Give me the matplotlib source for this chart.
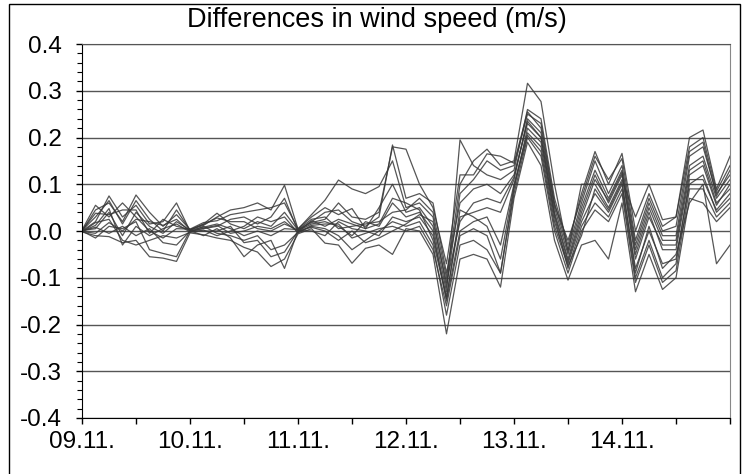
import numpy as np
import matplotlib.pyplot as plt
from matplotlib.patches import Rectangle

plt.rcParams['font.family'] = ['Liberation Sans', 'DejaVu Sans']
plt.rcParams['axes.unicode_minus'] = False

# hours since 09.11. 00 UTC, 3-hourly, up to 15.11. 00 UTC
hours = np.arange(0, 145, 3)

# one row per time step, one column per ensemble member (12 members)
day_0911 = [
    [0.000, -0.002, 0.001, 0.000, 0.002, -0.001, 0.000, 0.001, -0.002, 0.000, 0.001, -0.001],
    [0.045, -0.010, 0.005, 0.020, 0.055, 0.012, -0.015, 0.030, 0.018, 0.008, 0.038, -0.005],
    [0.060, -0.012, 0.040, 0.075, 0.030, 0.048, 0.010, 0.065, 0.025, -0.005, 0.035, 0.018],
    [0.020, -0.025, -0.010, 0.030, 0.060, -0.030, 0.005, 0.015, -0.020, 0.010, 0.045, 0.000],
    [0.077, -0.020, 0.040, 0.055, 0.030, 0.010, 0.020, 0.065, -0.030, -0.010, 0.045, 0.025],
    [0.040, -0.055, 0.010, 0.015, 0.000, -0.010, -0.040, 0.025, -0.020, 0.005, -0.005, 0.020],
    [0.010, -0.058, -0.005, 0.020, -0.015, 0.005, -0.048, 0.000, -0.010, -0.025, 0.025, 0.012],
    [0.035, -0.065, 0.020, 0.060, 0.005, 0.015, -0.055, 0.045, -0.015, -0.030, 0.010, 0.025],
]
day_1011 = [
    [0.003, -0.004, 0.002, 0.000, 0.004, -0.002, 0.001, 0.002, -0.003, 0.000, 0.003, -0.001],
    [0.012, -0.008, 0.015, 0.005, 0.018, 0.010, -0.010, 0.008, 0.002, 0.000, 0.014, 0.006],
    [0.030, -0.015, 0.038, 0.010, 0.022, -0.005, 0.005, 0.015, -0.010, 0.000, 0.028, 0.012],
    [0.045, -0.020, 0.015, 0.025, 0.035, -0.010, -0.015, 0.005, 0.000, 0.010, 0.020, -0.005],
    [0.050, -0.035, 0.005, 0.030, 0.040, -0.020, -0.055, -0.010, 0.010, -0.025, 0.020, 0.000],
    [0.060, -0.045, 0.020, 0.015, 0.045, -0.010, -0.030, 0.000, 0.030, -0.020, 0.005, 0.010],
    [0.045, -0.076, 0.010, 0.030, 0.050, -0.040, -0.020, -0.010, 0.020, -0.055, 0.000, 0.005],
    [0.098, -0.060, 0.040, 0.070, 0.060, -0.030, -0.080, 0.005, 0.030, -0.045, 0.015, 0.020],
]
day_1111 = [
    [0.004, -0.006, 0.002, 0.000, 0.005, -0.003, 0.001, 0.003, -0.004, 0.000, 0.002, -0.002],
    [0.035, 0.005, 0.020, 0.015, 0.030, 0.010, 0.000, 0.025, 0.012, 0.008, 0.018, 0.022],
    [0.066, -0.026, 0.040, 0.020, 0.050, 0.005, -0.010, 0.030, 0.015, 0.000, 0.025, 0.010],
    [0.109, -0.030, 0.045, 0.010, 0.035, -0.010, 0.020, 0.005, 0.015, -0.020, 0.060, 0.025],
    [0.090, -0.069, 0.020, -0.010, 0.048, -0.040, 0.005, 0.010, -0.015, 0.000, 0.030, 0.015],
    [0.080, -0.037, 0.010, 0.020, 0.005, -0.020, 0.000, 0.015, -0.005, -0.025, 0.025, 0.005],
    [0.095, -0.030, 0.030, 0.010, 0.050, 0.000, -0.010, 0.020, 0.005, -0.015, 0.040, 0.015],
    [0.150, -0.050, 0.184, 0.060, 0.100, 0.020, 0.030, 0.040, 0.010, 0.000, 0.180, 0.070],
]
day_1211 = [
    [0.050, 0.005, 0.070, 0.030, 0.040, 0.010, 0.020, 0.045, 0.000, 0.015, 0.175, 0.060],
    [0.060, 0.000, 0.080, 0.040, 0.050, 0.020, 0.030, 0.070, 0.010, 0.035, 0.100, 0.045],
    [0.030, -0.050, 0.060, 0.000, 0.010, -0.030, -0.010, 0.040, -0.040, 0.020, 0.050, -0.020],
    [-0.120, -0.220, -0.090, -0.150, -0.130, -0.180, -0.140, -0.100, -0.160, -0.110, -0.070, -0.145],
    [0.080, -0.060, 0.060, 0.000, 0.195, -0.030, 0.030, 0.100, -0.010, 0.020, 0.120, 0.045],
    [0.110, -0.050, 0.090, 0.020, 0.140, -0.020, 0.040, 0.150, 0.005, 0.060, 0.120, 0.030],
    [0.150, -0.060, 0.100, 0.030, 0.120, -0.040, 0.050, 0.175, -0.010, 0.070, 0.165, 0.010],
    [0.130, -0.120, 0.080, -0.030, 0.110, -0.090, 0.040, 0.140, -0.090, 0.060, 0.160, -0.060],
]
day_1311 = [
    [0.140, 0.070, 0.120, 0.100, 0.130, 0.080, 0.110, 0.150, 0.090, 0.115, 0.145, 0.095],
    [0.250, 0.190, 0.230, 0.210, 0.260, 0.200, 0.240, 0.316, 0.220, 0.235, 0.255, 0.205],
    [0.230, 0.140, 0.200, 0.180, 0.240, 0.160, 0.210, 0.277, 0.190, 0.200, 0.220, 0.170],
    [0.060, -0.020, 0.040, 0.020, 0.070, 0.000, 0.050, 0.100, 0.030, 0.035, 0.055, 0.010],
    [-0.040, -0.105, -0.060, -0.070, -0.030, -0.090, -0.050, -0.045, -0.080, -0.065, -0.020, -0.075],
    [0.060, -0.030, 0.040, 0.020, 0.080, 0.000, 0.050, 0.100, 0.010, 0.030, 0.070, -0.010],
    [0.150, -0.020, 0.120, 0.080, 0.170, 0.045, 0.130, 0.100, 0.060, 0.110, 0.160, 0.090],
    [0.080, -0.060, 0.060, 0.040, 0.100, 0.020, 0.070, 0.050, 0.030, 0.065, 0.110, 0.045],
]
day_1411 = [
    [0.140, 0.060, 0.120, 0.100, 0.166, 0.080, 0.130, 0.110, 0.090, 0.125, 0.155, 0.105],
    [-0.030, -0.130, -0.060, -0.080, 0.000, -0.110, -0.040, 0.030, -0.100, -0.050, -0.020, -0.090],
    [0.060, -0.050, 0.030, 0.000, 0.080, -0.030, 0.050, 0.100, -0.020, 0.040, 0.070, 0.010],
    [-0.010, -0.125, -0.030, -0.070, 0.010, -0.110, -0.020, 0.024, -0.100, -0.040, 0.000, -0.080],
    [-0.010, -0.100, -0.030, -0.060, 0.030, -0.085, -0.020, 0.030, -0.070, -0.040, 0.010, -0.050],
    [0.160, 0.070, 0.130, 0.100, 0.200, 0.090, 0.140, 0.180, 0.110, 0.120, 0.170, 0.060],
    [0.180, 0.060, 0.150, 0.120, 0.216, 0.090, 0.160, 0.200, 0.110, 0.140, 0.190, 0.100],
    [0.080, 0.020, 0.060, 0.040, 0.090, 0.030, 0.070, 0.085, 0.045, 0.055, 0.075, -0.070],
]
end_1511 = [0.120, 0.050, 0.090, 0.070, 0.160, 0.060, 0.110, 0.140, 0.080, 0.100, 0.130, -0.030]

day_labels = ['09.11.', '10.11.', '11.11.', '12.11.', '13.11.', '14.11.', '']
y_ticks = [-0.4, -0.3, -0.2, -0.1, 0.0, 0.1, 0.2, 0.3, 0.4]

diff = np.array(day_0911 + day_1011 + day_1111 + day_1211 + day_1311 + day_1411 + [end_1511])

fig = plt.figure(figsize=(7.53, 4.74), dpi=100)
ax = fig.add_axes([82/753, 1-418/474, 648/753, 374/474])

for y in y_ticks:
    ax.axhline(y, color='#555555', lw=1.0, zorder=1)

for k in range(diff.shape[1]):
    ax.plot(hours, diff[:, k], color='#383838', lw=0.9, alpha=0.85, zorder=2)

ax.set_xlim(0, 144)
ax.set_ylim(-0.4, 0.4)

ax.set_yticks(y_ticks)
ax.set_yticklabels(['%.1f' % v for v in y_ticks])
ax.set_yticks(np.arange(-0.4, 0.401, 0.02), minor=True)

xt = np.arange(0, 145, 12)
ax.set_xticks(xt)
ax.set_xticklabels([day_labels[int(h)//24] if h % 24 == 0 else '' for h in xt])

ax.tick_params(axis='both', which='major', direction='out', length=4.5, width=1,
               labelsize=17.5, colors='black')
ax.tick_params(axis='y', which='major', pad=10)
ax.tick_params(axis='x', which='major', pad=5)
ax.tick_params(axis='y', which='minor', direction='out', length=3.5, width=0.8)
ax.tick_params(axis='x', which='minor', bottom=False)

ax.spines['left'].set_color('black')
ax.spines['bottom'].set_color('black')
ax.spines['top'].set_color('#555555')
ax.spines['right'].set_color('#888888')

fig.text(0.5, 1-27/474, 'Differences in wind speed (m/s)', ha='center', va='baseline', fontsize=19.5)

fig.add_artist(Rectangle((9/753, -0.05), 731/753, 1.05-4/474, transform=fig.transFigure,
                         fill=False, edgecolor='black', lw=1))

fig.savefig('out.png', dpi=100)
